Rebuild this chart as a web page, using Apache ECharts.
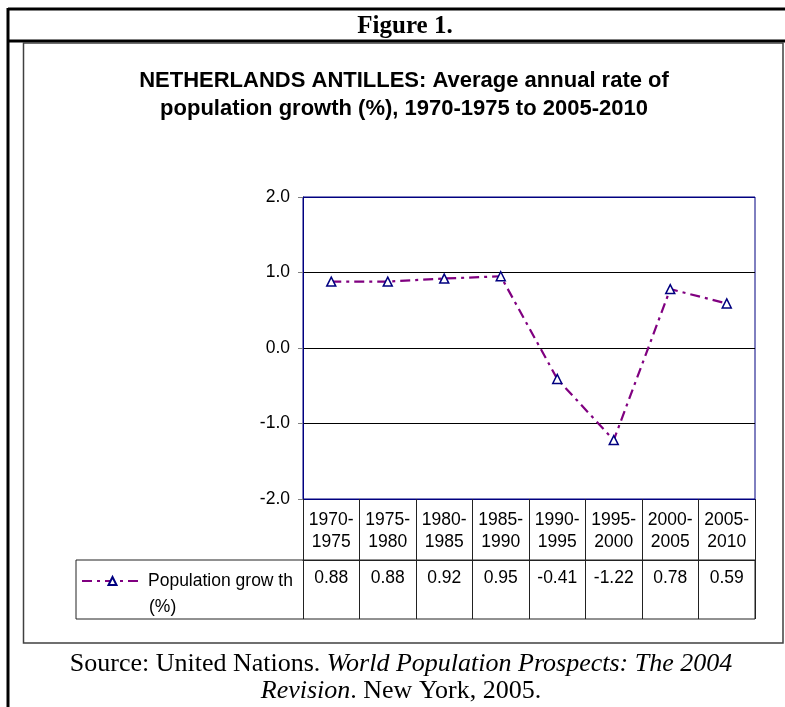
<!DOCTYPE html>
<html><head><meta charset="utf-8">
<script src="https://cdn.jsdelivr.net/npm/echarts@6/dist/echarts.min.js"></script>
<style>html,body{margin:0;padding:0;background:#fff}#c{width:785px;height:707px}</style>
</head><body><div id="c"></div>
<script>
// ---- data ----
const periods = ['1970-1975','1975-1980','1980-1985','1985-1990','1990-1995','1995-2000','2000-2005','2005-2010'];
const growth = [0.88, 0.88, 0.92, 0.95, -0.41, -1.22, 0.78, 0.59];
const seriesName = 'Population growth (%)';
const legendLabel = 'Population grow th';
const legendLabel2 = '(%)';
const yMin = -2, yMax = 2, yStep = 1;
const figureTitle = 'Figure 1.';
const chartTitle = 'NETHERLANDS ANTILLES: Average annual rate of\npopulation growth (%), 1970-1975 to 2005-2010';

// ---- layout ----
const W = 785, H = 707;
const GL = 303, GR = 755, GT = 197, GB = 499;
const ROW1 = 61, ROW2 = 59;
const SANS = '"Liberation Sans", Arial, sans-serif';
const SERIF = '"Liberation Serif", "Times New Roman", serif';
const FS = 17.5;

const chart = echarts.init(document.getElementById('c'), null, {renderer: 'canvas'});
chart.setOption({
  animation: false,
  backgroundColor: '#fff',
  title: {
    text: chartTitle,
    left: 399, top: 62, textAlign: 'center',
    textStyle: {fontFamily: SANS, fontSize: 22, fontWeight: 'bold', color: '#000', lineHeight: 28}
  },
  legend: {
    data: [seriesName],
    left: 81, top: 572, padding: 0,
    itemWidth: 61, itemHeight: 10,
    formatter: () => legendLabel,
    textStyle: {fontFamily: SANS, fontSize: FS, color: '#000', lineHeight: 18},
    selectedMode: false
  },
  grid: {
    left: GL, right: W - GR, top: GT, bottom: H - GB,
    show: true, borderColor: '#000080', borderWidth: 1, backgroundColor: 'transparent'
  },
  xAxis: [{
    type: 'category', data: periods, position: 'bottom',
    axisLine: {show: false, onZero: false},
    axisTick: {show: true, length: ROW1, interval: 0, alignWithLabel: false, lineStyle: {color: '#222'}},
    axisLabel: {interval: 0, margin: 10, fontFamily: SANS, fontSize: FS, color: '#000', lineHeight: 22,
      formatter: v => v.replace('-', '-\n')},
    splitLine: {show: false}
  }, {
    type: 'category', data: periods, position: 'bottom', offset: ROW1,
    axisLine: {show: true, onZero: false, lineStyle: {color: '#222'}},
    axisTick: {show: true, length: ROW2, interval: 0, alignWithLabel: false, lineStyle: {color: '#222'}},
    axisLabel: {interval: 0, margin: 9, fontFamily: SANS, fontSize: FS, color: '#000', lineHeight: 18,
      formatter: (v, i) => growth[i].toFixed(2)},
    splitLine: {show: false}
  }],
  yAxis: {
    type: 'value', min: yMin, max: yMax, interval: yStep,
    axisLine: {show: true, lineStyle: {color: '#000080'}},
    axisTick: {show: true, length: 5, lineStyle: {color: '#808080'}},
    axisLabel: {margin: 13, fontFamily: SANS, fontSize: FS, color: '#000', formatter: v => v.toFixed(1)},
    splitLine: {show: true, lineStyle: {color: ['#000080', '#000', '#000', '#000', '#000080'], width: 1}}
  },
  series: [{
    name: seriesName, type: 'line', data: growth,
    xAxisIndex: 0, yAxisIndex: 0,
    symbol: 'triangle', symbolSize: 9,
    itemStyle: {color: '#fff', borderColor: '#000080', borderWidth: 1.5},
    lineStyle: {color: '#800080', width: 2.2, type: [10, 5, 3, 5]},
    emphasis: {disabled: true}
  }],
  graphic: [
    {type: 'line', shape: {x1: 8, y1: 9, x2: 785, y2: 9}, style: {stroke: '#000', lineWidth: 3}},
    {type: 'line', shape: {x1: 8, y1: 41, x2: 785, y2: 41}, style: {stroke: '#000', lineWidth: 3}},
    {type: 'line', shape: {x1: 8, y1: 8, x2: 8, y2: 707}, style: {stroke: '#000', lineWidth: 3}},
    {type: 'rect', shape: {x: 23.5, y: 43, width: 759.5, height: 600}, style: {fill: 'none', stroke: '#404040', lineWidth: 1.5}},
    {type: 'rect', shape: {x: 76, y: GB + ROW1, width: GR - 76, height: ROW2}, style: {fill: 'none', stroke: '#222', lineWidth: 1}},
    {type: 'text', x: 405, y: 27, style: {text: figureTitle, fontFamily: SERIF, fontSize: 25, fontWeight: 'bold', fill: '#000', textAlign: 'center', textVerticalAlign: 'middle'}},
    {type: 'text', x: 149, y: 607, style: {text: legendLabel2, fontFamily: SANS, fontSize: FS, fill: '#000', textAlign: 'left', textVerticalAlign: 'middle'}},
    {type: 'text', x: 401, y: 664, style: {
      text: 'Source: United Nations. {i|World Population Prospects: The 2004}',
      fontFamily: SERIF, fontSize: 26, fill: '#000', textAlign: 'center', textVerticalAlign: 'middle',
      rich: {i: {fontFamily: SERIF, fontSize: 26, fontStyle: 'italic', fill: '#000'}}}},
    {type: 'text', x: 401, y: 691, style: {
      text: '{i|Revision}. New York, 2005.',
      fontFamily: SERIF, fontSize: 26, fill: '#000', textAlign: 'center', textVerticalAlign: 'middle',
      rich: {i: {fontFamily: SERIF, fontSize: 26, fontStyle: 'italic', fill: '#000'}}}}
  ]
});
</script>
</body></html>
